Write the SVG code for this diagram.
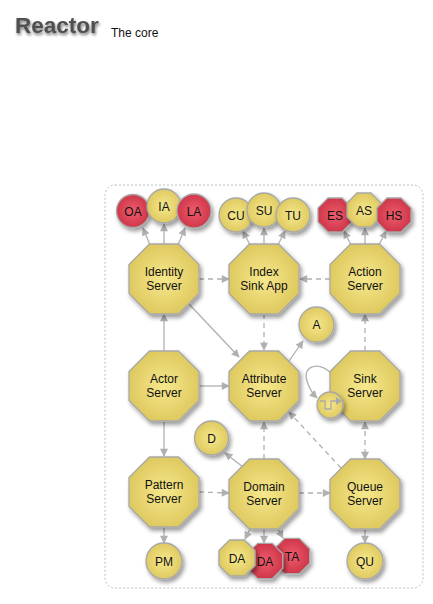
<svg xmlns="http://www.w3.org/2000/svg" width="433" height="604" viewBox="0 0 433 604">
<defs>
<style>
.t{font-family:"Liberation Sans",Arial,sans-serif;font-size:12px;fill:#111;text-anchor:middle}
.y{fill:url(#gy);stroke:#a8a8a8;stroke-width:1.3}
.r{fill:url(#gr);stroke:#a8a8a8;stroke-width:1.3}
.c{fill:none;stroke:#b0b0b0;stroke-width:1.3}
.d{stroke-dasharray:5,4}
.a{marker-end:url(#ah)}
.b{marker-start:url(#ah);marker-end:url(#ah)}
</style>
<radialGradient id="gy" cx="50%" cy="50%" r="55%">
<stop offset="0" stop-color="#f6e88c"/>
<stop offset="1" stop-color="#ddc75c"/>
</radialGradient>
<radialGradient id="gr" cx="50%" cy="50%" r="55%">
<stop offset="0" stop-color="#ee5c6c"/>
<stop offset="1" stop-color="#cc3347"/>
</radialGradient>
<filter id="sh" x="-40%" y="-40%" width="180%" height="180%">
<feGaussianBlur in="SourceAlpha" stdDeviation="2"/>
<feOffset dx="2" dy="3"/>
<feComponentTransfer><feFuncA type="linear" slope="0.4"/></feComponentTransfer>
<feMerge><feMergeNode/><feMergeNode in="SourceGraphic"/></feMerge>
</filter>
<filter id="tsh" x="-20%" y="-40%" width="140%" height="180%">
<feGaussianBlur in="SourceAlpha" stdDeviation="1.8"/>
<feOffset dx="1" dy="2"/>
<feComponentTransfer><feFuncA type="linear" slope="0.55"/></feComponentTransfer>
<feMerge><feMergeNode/><feMergeNode in="SourceGraphic"/></feMerge>
</filter>
<marker id="ah" viewBox="0 0 10 10" refX="9" refY="5" markerWidth="9" markerHeight="8" markerUnits="userSpaceOnUse" orient="auto-start-reverse">
<path d="M0,0 L10,5 L0,10 z" fill="#b0b0b0"/>
</marker>
<polygon id="oct" points="-14.5,-35 14.5,-35 35,-14.5 35,14.5 14.5,35 -14.5,35 -35,14.5 -35,-14.5"/>
<polygon id="soct" points="-7,-17 7,-17 17,-7 17,7 7,17 -7,17 -17,7 -17,-7"/>
</defs>

<g id="title">
<text x="15" y="33" font-family="Liberation Sans,Arial,sans-serif" font-size="22.5" font-weight="bold" fill="#4f4f4f" filter="url(#tsh)">Reactor</text>
<text x="111" y="37" font-family="Liberation Sans,Arial,sans-serif" font-size="12" fill="#111">The core</text>
</g>

<rect id="container" x="105" y="185" width="318" height="403" rx="10" fill="none" stroke="#bdbdbd" stroke-width="1" stroke-dasharray="2,2"/>

<g id="connectors">
<line class="c a" x1="150" y1="245" x2="143" y2="228"/>
<line class="c a" x1="164" y1="244" x2="164" y2="224"/>
<line class="c a" x1="178" y1="245" x2="185" y2="228"/>
<line class="c a" x1="250" y1="245" x2="243" y2="231"/>
<line class="c a" x1="264" y1="244" x2="264" y2="228"/>
<line class="c a" x1="278" y1="245" x2="285" y2="231"/>
<line class="c a" x1="351" y1="245" x2="344" y2="231"/>
<line class="c a" x1="365" y1="244" x2="365" y2="228"/>
<line class="c a" x1="379" y1="245" x2="386" y2="231"/>
<line class="c d a" x1="199" y1="279" x2="229" y2="279"/>
<line class="c d a" x1="330" y1="279" x2="300" y2="279"/>
<line class="c a" x1="189" y1="304" x2="239" y2="357"/>
<line class="c a" x1="164" y1="351" x2="164" y2="314"/>
<line class="c d a" x1="264" y1="314" x2="264" y2="350"/>
<line class="c a" x1="289" y1="361" x2="303" y2="341"/>
<line class="c a" x1="199" y1="386" x2="229" y2="386"/>
<line class="c a" x1="164" y1="421" x2="164" y2="456"/>
<line class="c d a" x1="365" y1="351" x2="365" y2="314"/>
<line class="c d b" x1="365" y1="422" x2="365" y2="459"/>
<line class="c d a" x1="341" y1="468" x2="289" y2="412"/>
<line class="c d a" x1="264" y1="459" x2="264" y2="422"/>
<line class="c a" x1="243" y1="467" x2="225" y2="453"/>
<line class="c d a" x1="199" y1="492" x2="229" y2="493"/>
<line class="c d a" x1="299" y1="493" x2="330" y2="493"/>
<line class="c a" x1="164" y1="527" x2="164" y2="543"/>
<line class="c a" x1="250" y1="529" x2="245" y2="539"/>
<line class="c a" x1="264" y1="529" x2="264" y2="543"/>
<line class="c a" x1="278" y1="529" x2="283" y2="538"/>
<line class="c a" x1="365" y1="529" x2="365" y2="543"/>
<path class="c a" d="M331,373 C318,361 302,366 307,381 C309,388 312,393 317,398"/>
</g>

<g id="identity" transform="translate(164,279)"><use href="#oct" class="y" filter="url(#sh)"/><text class="t" y="-3">Identity</text><text class="t" y="11">Server</text></g>
<g id="indexsink" transform="translate(264,279)"><use href="#oct" class="y" filter="url(#sh)"/><text class="t" y="-3">Index</text><text class="t" y="11">Sink App</text></g>
<g id="action" transform="translate(365,279)"><use href="#oct" class="y" filter="url(#sh)"/><text class="t" y="-3">Action</text><text class="t" y="11">Server</text></g>
<g id="actor" transform="translate(164,386)"><use href="#oct" class="y" filter="url(#sh)"/><text class="t" y="-3">Actor</text><text class="t" y="11">Server</text></g>
<g id="attribute" transform="translate(264,386)"><use href="#oct" class="y" filter="url(#sh)"/><text class="t" y="-3">Attribute</text><text class="t" y="11">Server</text></g>
<g id="sink" transform="translate(365,386)"><use href="#oct" class="y" filter="url(#sh)"/><text class="t" y="-3">Sink</text><text class="t" y="11">Server</text></g>
<g id="pattern" transform="translate(164,492)"><use href="#oct" class="y" filter="url(#sh)"/><text class="t" y="-3">Pattern</text><text class="t" y="11">Server</text></g>
<g id="domain" transform="translate(264,494)"><use href="#oct" class="y" filter="url(#sh)"/><text class="t" y="-3">Domain</text><text class="t" y="11">Server</text></g>
<g id="queue" transform="translate(365,494)"><use href="#oct" class="y" filter="url(#sh)"/><text class="t" y="-3">Queue</text><text class="t" y="11">Server</text></g>

<g id="oa" transform="translate(133,211)"><circle r="16.5" class="r" filter="url(#sh)"/><text class="t" y="4.5">OA</text></g>
<g id="ia" transform="translate(164,206)"><circle r="17" class="y" filter="url(#sh)"/><text class="t" y="4.5">IA</text></g>
<g id="la" transform="translate(194,211)"><circle r="17" class="r" filter="url(#sh)"/><text class="t" y="4.5">LA</text></g>

<g id="cu" transform="translate(236,215)"><circle r="17" class="y" filter="url(#sh)"/><text class="t" y="4.5">CU</text></g>
<g id="su" transform="translate(264,210)"><circle r="17" class="y" filter="url(#sh)"/><text class="t" y="4.5">SU</text></g>
<g id="tu" transform="translate(293,215)"><circle r="17" class="y" filter="url(#sh)"/><text class="t" y="4.5">TU</text></g>

<g id="es" transform="translate(335,215)"><use href="#soct" class="r" filter="url(#sh)"/><text class="t" y="4.5">ES</text></g>
<g id="as" transform="translate(364,210)"><use href="#soct" class="y" filter="url(#sh)"/><text class="t" y="4.5">AS</text></g>
<g id="hs" transform="translate(394,215)"><use href="#soct" class="r" filter="url(#sh)"/><text class="t" y="4.5">HS</text></g>

<g id="a" transform="translate(316.5,324.5)"><circle r="17.5" class="y" filter="url(#sh)"/><text class="t" y="4.5">A</text></g>
<g id="d" transform="translate(211.5,438)"><circle r="17" class="y" filter="url(#sh)"/><text class="t" y="4.5">D</text></g>

<g id="pulse" transform="translate(330,405)"><circle r="13" class="y" filter="url(#sh)"/>
<polyline points="-10,-4 -5,-4 -5,4 1,4 1,-4 7,-4" fill="none" stroke="#aaa" stroke-width="1.3"/>
<path d="M6,-8 L12,-4 L6,0 z" fill="#aaa"/></g>

<g id="pm" transform="translate(164,561)"><circle r="18" class="y" filter="url(#sh)"/><text class="t" y="4.5">PM</text></g>
<g id="ta" transform="translate(292,556)"><use href="#soct" class="r" filter="url(#sh)" transform="scale(1.04)"/><text class="t" y="4.5">TA</text></g>
<g id="da2" transform="translate(265,561)"><use href="#soct" class="r" filter="url(#sh)" transform="scale(1.04)"/><text class="t" y="4.5">DA</text></g>
<g id="da1" transform="translate(237,558)"><use href="#soct" class="y" filter="url(#sh)" transform="scale(1.06)"/><text class="t" y="4.5">DA</text></g>
<g id="qu" transform="translate(365,561)"><circle r="18" class="y" filter="url(#sh)"/><text class="t" y="4.5">QU</text></g>
</svg>
